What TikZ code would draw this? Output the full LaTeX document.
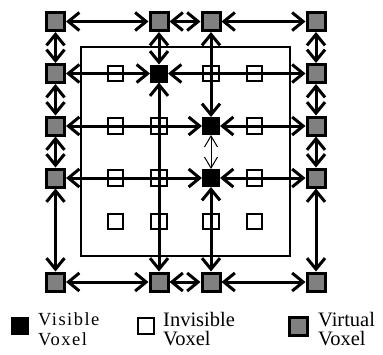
\documentclass[tikz,border=0pt]{standalone}
\usepackage{fontspec}
\setmainfont{Liberation Serif}
\usetikzlibrary{arrows.meta}
\definecolor{vgray}{gray}{0.5}
\begin{document}
\begin{tikzpicture}[x=1pt,y=-1pt,
  virt/.style={draw=black, fill=vgray, line width=3pt, minimum size=18pt, inner sep=0pt},
  vis/.style={draw=black, fill=black, line width=1pt, minimum size=17pt, inner sep=0pt},
  invis/.style={draw=black, line width=2pt, minimum size=15.5pt, inner sep=0pt},
  link/.style={line width=3pt, {Straight Barb[length=11pt,width=18pt]}-{Straight Barb[length=11pt,width=18pt]}},
  thinlink/.style={line width=1pt, {Straight Barb[length=11pt,width=13pt]}-{Straight Barb[length=11pt,width=13pt]}},
  legtext/.style={anchor=base west, align=left, inner sep=0pt, font=\fontsize{20.5}{19}\selectfont},
]
\useasboundingbox (0,0) rectangle (383,354);
% region
\draw[line width=2pt] (81,47) rectangle (290,256);
% invisible voxels
\foreach \x/\cx in {1/115.5,2/159,3/211,4/254.5}{
  \foreach \y/\cy in {1/73.5,2/126,3/178,4/221.5}{
    \node[invis] (w\x\y) at (\cx,\cy) {};
  }
}
% visible voxels
\node[vis] (b1) at (159,73.5) {};
\node[vis] (b2) at (211,126) {};
\node[vis] (b3) at (211,178) {};
% virtual voxels
\node[virt] (t1) at (55.5,21.5) {};
\node[virt] (t2) at (159,21.5) {};
\node[virt] (t3) at (211,21.5) {};
\node[virt] (t4) at (316,21.5) {};
\node[virt] (d1) at (55.5,282) {};
\node[virt] (d2) at (159,282) {};
\node[virt] (d3) at (211,282) {};
\node[virt] (d4) at (316,282) {};
\node[virt] (l1) at (55.5,73.5) {};
\node[virt] (l2) at (55.5,126) {};
\node[virt] (l3) at (55.5,178) {};
\node[virt] (r1) at (316,73.5) {};
\node[virt] (r2) at (316,126) {};
\node[virt] (r3) at (316,178) {};
% border links
\draw[link] (t1) -- (t2);
\draw[link] (t2) -- (t3);
\draw[link] (t3) -- (t4);
\draw[link] (d1) -- (d2);
\draw[link] (d2) -- (d3);
\draw[link] (d3) -- (d4);
\draw[link] (t1) -- (l1);
\draw[link] (l1) -- (l2);
\draw[link] (l2) -- (l3);
\draw[link] (l3) -- (d1);
\draw[link] (t4) -- (r1);
\draw[link] (r1) -- (r2);
\draw[link] (r2) -- (r3);
\draw[link] (r3) -- (d4);
% interior links
\draw[link] (l1) -- (b1);
\draw[link] (b1) -- (r1);
\draw[link] (t2) -- (b1);
\draw[link] (b1) -- (d2);
\draw[link] (l2) -- (b2);
\draw[link] (b2) -- (r2);
\draw[link] (t3) -- (b2);
\draw[thinlink] (b2) -- (b3);
\draw[link] (b3) -- (d3);
\draw[link] (l3) -- (b3);
\draw[link] (b3) -- (r3);
% legend
\node[vis] (kvis) at (19.5,326) {};
\node[legtext, font=\fontsize{18.5}{19.5}\selectfont\addfontfeatures{LetterSpace=8}] (tvis) at (38,345) {Visible\\Voxel};
\node[invis] (kinv) at (146,326) {};
\node[legtext] (tinv) at (163,345) {Invisible\\Voxel};
\node[virt] (kvir) at (298.5,326.5) {};
\node[legtext] (tvir) at (318,345) {Virtual\\Voxel};
\end{tikzpicture}
\end{document}
